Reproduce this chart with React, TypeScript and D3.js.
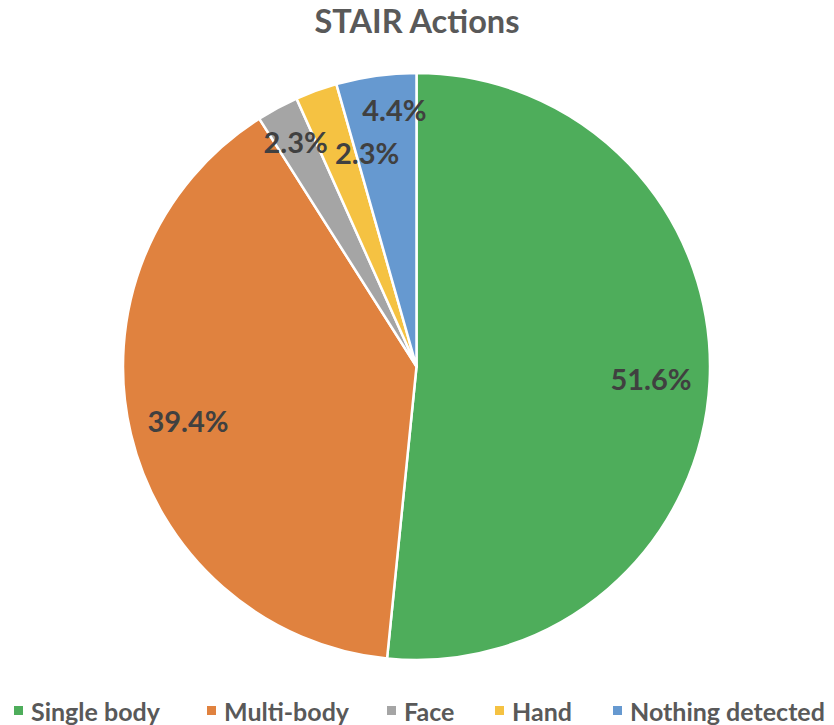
import React from "react";
import * as d3 from "d3";

const categories = ["Single body", "Multi-body", "Face", "Hand", "Nothing detected"];
const values = [51.6, 39.4, 2.3, 2.3, 4.4];
const colors = ["#4EAD5B", "#E0823F", "#A5A5A5", "#F5C242", "#6699D0"];
const title = "STAIR Actions";

// label placement (fraction of radius, angular shift in degrees)
const labelRadius = [0.8, 0.8, 0.87, 0.75, 0.88];
const labelShift = [0, 0, 0, 7, 3];
const legendX = [14, 207, 387, 495, 613];

const W = 834, H = 725;
const cx = 416.5, cy = 366.5, R = 293.5;
const FONT = "Lato, 'Open Sans', sans-serif";

export default function App() {
  const pie = d3.pie<number>().sort(null).value((d) => d)(values);
  const arc = d3.arc<d3.PieArcDatum<number>>().innerRadius(0).outerRadius(R);
  return (
    <svg width={W} height={H} style={{ position: "absolute", left: 0, top: 0, background: "#fff" }}>
      <text x={W / 2} y={33} textAnchor="middle" fontFamily={FONT} fontWeight="bold" fontSize={32.5} fill="#595959">
        {title}
      </text>
      <g transform={`translate(${cx},${cy})`}>
        {pie.map((p, i) => (
          <path key={i} d={arc(p) || ""} fill={colors[i]} stroke="#fff" strokeWidth={2.5} strokeLinejoin="round" />
        ))}
        {pie.map((p, i) => {
          const a = (p.startAngle + p.endAngle) / 2 + (labelShift[i] * Math.PI) / 180;
          const r = R * labelRadius[i];
          const x = r * Math.sin(a);
          const y = -r * Math.cos(a);
          return (
            <text key={i} x={x} y={y} textAnchor="middle" dominantBaseline="central" fontFamily={FONT}
              fontWeight="bold" fontSize={29} fill="#404040">
              {values[i].toFixed(1)}%
            </text>
          );
        })}
      </g>
      <g>
        {categories.map((c, i) => (
          <g key={c} transform={`translate(${legendX[i]},711)`}>
            <rect x={0} y={-5} width={9} height={9} fill={colors[i]} />
            <text x={17} y={0} dominantBaseline="central" fontFamily={FONT} fontWeight="bold" fontSize={25} fill="#595959">
              {c}
            </text>
          </g>
        ))}
      </g>
    </svg>
  );
}
